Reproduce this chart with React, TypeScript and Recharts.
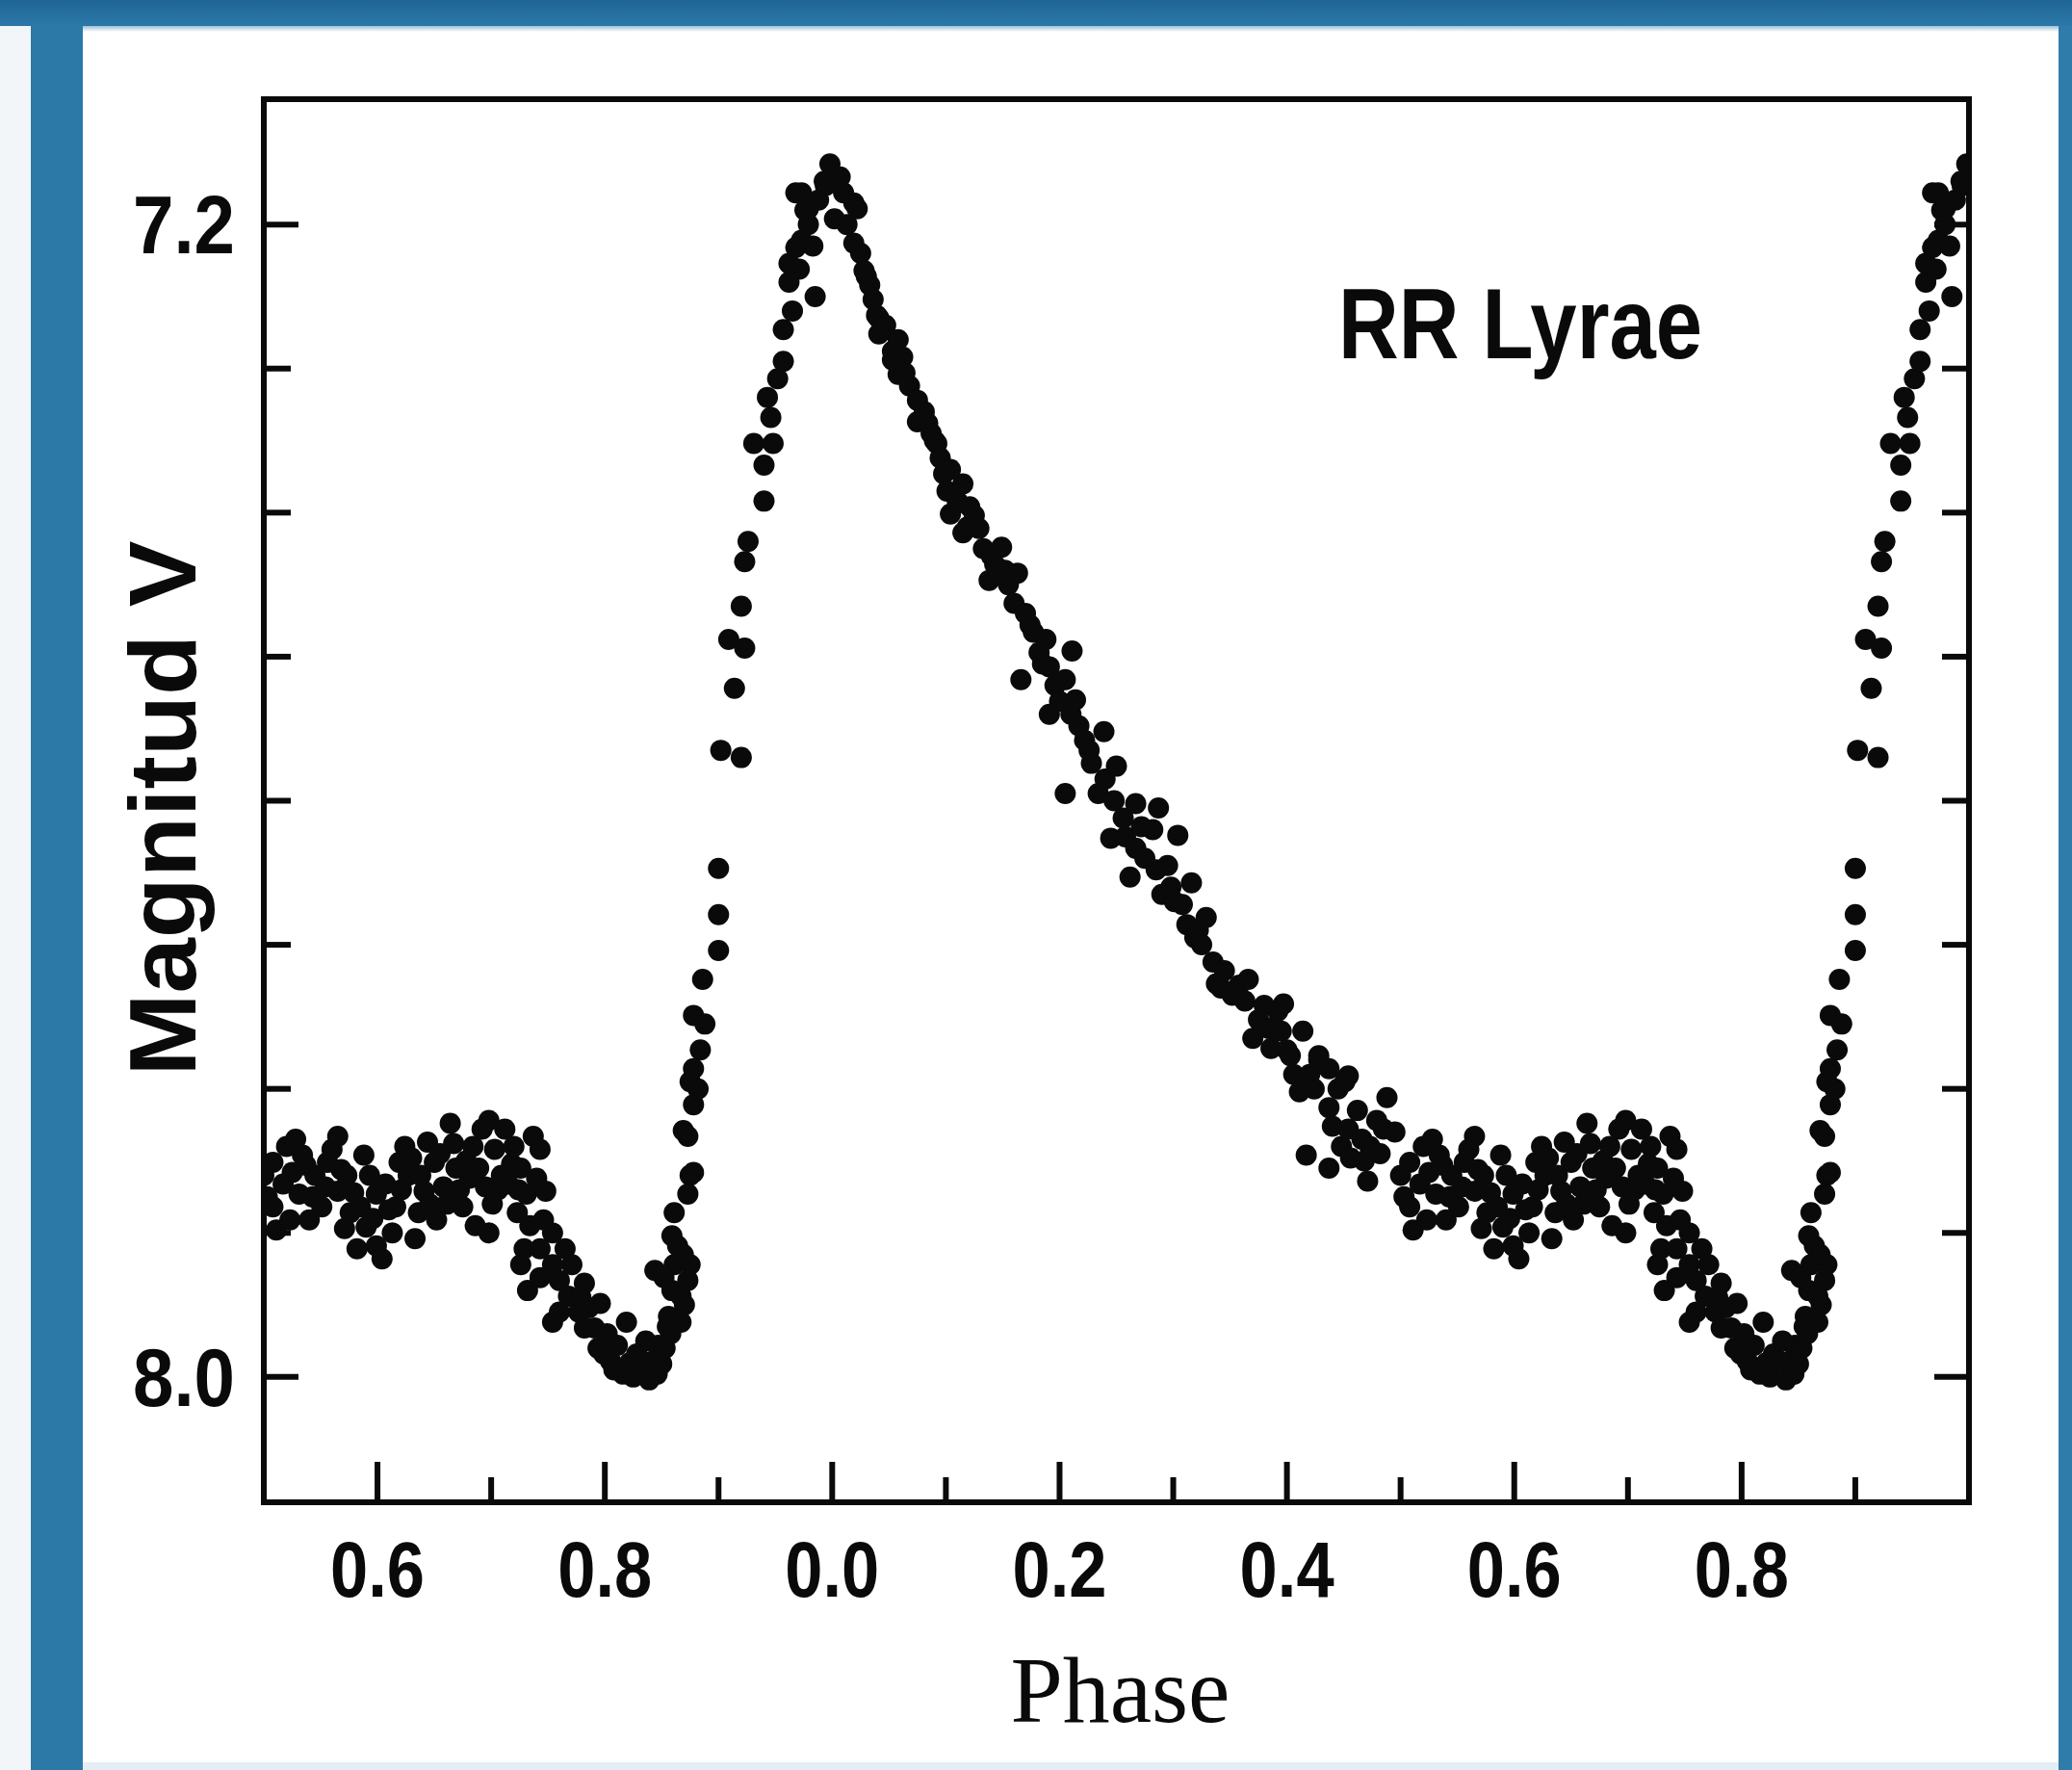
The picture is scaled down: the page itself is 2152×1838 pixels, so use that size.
import { ScatterChart, Scatter, XAxis, YAxis } from 'recharts'

// observed light curve of RR Lyrae: [phase, V magnitude]
const plateau: [number, number][] = [
  [0.500, 7.860], [0.503, 7.875], [0.508, 7.851], [0.508, 7.882], [0.511, 7.898], [0.517, 7.866],
  [0.520, 7.840], [0.523, 7.891], [0.525, 7.858], [0.528, 7.835], [0.531, 7.873], [0.534, 7.846],
  [0.537, 7.853], [0.540, 7.891], [0.543, 7.875], [0.545, 7.860], [0.551, 7.882], [0.554, 7.868],
  [0.556, 7.851], [0.560, 7.842], [0.565, 7.833], [0.565, 7.871], [0.568, 7.856], [0.571, 7.897],
  [0.573, 7.860], [0.576, 7.886], [0.579, 7.872], [0.582, 7.911], [0.585, 7.882], [0.588, 7.846],
  [0.590, 7.896], [0.593, 7.860], [0.596, 7.890], [0.599, 7.873], [0.599, 7.909], [0.604, 7.918],
  [0.607, 7.866], [0.610, 7.884], [0.613, 7.900], [0.616, 7.882], [0.619, 7.851], [0.621, 7.870],
  [0.624, 7.840], [0.627, 7.860], [0.630, 7.848], [0.633, 7.904], [0.636, 7.886], [0.638, 7.860],
  [0.641, 7.871], [0.644, 7.837], [0.646, 7.880], [0.650, 7.851], [0.652, 7.891], [0.655, 7.845],
  [0.658, 7.868], [0.661, 7.880], [0.664, 7.824], [0.667, 7.838], [0.669, 7.855], [0.672, 7.870],
  [0.675, 7.882], [0.678, 7.850], [0.681, 7.862], [0.684, 7.840], [0.686, 7.895], [0.689, 7.855],
  [0.692, 7.828], [0.695, 7.868], [0.698, 7.822], [0.698, 7.900], [0.701, 7.880], [0.703, 7.842],
  [0.706, 7.870], [0.709, 7.860], [0.712, 7.828], [0.715, 7.866], [0.718, 7.852], [0.720, 7.840],
  [0.723, 7.886], [0.724, 7.870], [0.726, 7.855], [0.729, 7.911], [0.731, 7.873], [0.734, 7.895],
  [0.737, 7.833], [0.740, 7.862], [0.743, 7.842], [0.746, 7.891], [0.748, 7.871], [0.754, 7.900],
]

const minimum: [number, number][] = [
  [0.726, 7.922], [0.732, 7.940], [0.743, 7.911], [0.743, 7.931], [0.754, 7.922], [0.754, 7.962],
  [0.760, 7.933], [0.760, 7.955], [0.765, 7.911], [0.768, 7.944], [0.771, 7.922], [0.777, 7.955],
  [0.779, 7.945], [0.782, 7.935], [0.782, 7.966], [0.786, 7.952], [0.791, 7.966], [0.794, 7.980],
  [0.796, 7.949], [0.799, 7.984], [0.802, 7.970], [0.805, 7.989], [0.808, 7.995], [0.811, 7.978],
  [0.816, 7.998], [0.819, 7.962], [0.822, 7.990], [0.825, 8.000], [0.828, 7.984], [0.833, 7.989],
  [0.836, 7.975], [0.839, 8.002], [0.842, 7.989], [0.844, 7.926], [0.846, 7.998], [0.847, 7.978],
  [0.850, 7.991], [0.853, 7.980], [0.856, 7.958], [0.858, 7.970], [0.859, 7.940], [0.861, 7.922],
  [0.864, 7.909], [0.867, 7.944], [0.867, 7.962], [0.870, 7.950], [0.873, 7.933], [0.875, 7.922],
]

const rise: [number, number][] = [
  [0.852, 7.931], [0.855, 7.965], [0.859, 7.902], [0.861, 7.886], [0.869, 7.915], [0.873, 7.873],
  [0.875, 7.860], [0.878, 7.858], [0.873, 7.833], [0.869, 7.829], [0.878, 7.811], [0.875, 7.795],
  [0.882, 7.800], [0.878, 7.786], [0.884, 7.773], [0.878, 7.749], [0.888, 7.755], [0.886, 7.724],
  [0.900, 7.704], [0.900, 7.679], [0.900, 7.647], [0.902, 7.565], [0.920, 7.570], [0.914, 7.522],
  [0.909, 7.488], [0.923, 7.494], [0.920, 7.465], [0.923, 7.434], [0.926, 7.420], [0.940, 7.392],
  [0.940, 7.367], [0.931, 7.352], [0.948, 7.352], [0.946, 7.334], [0.943, 7.320], [0.952, 7.307],
  [0.957, 7.295], [0.957, 7.273], [0.965, 7.260], [0.962, 7.240], [0.968, 7.216], [0.971, 7.231],
]

const peak: [number, number][] = [
  [0.962, 7.227], [0.968, 7.178], [0.973, 7.178], [0.973, 7.211], [0.976, 7.190], [0.979, 7.189],
  [0.979, 7.200], [0.983, 7.215], [0.985, 7.250], [0.988, 7.183], [0.993, 7.170], [0.994, 7.173],
  [0.998, 7.158], [0.002, 7.196], [0.007, 7.167], [0.010, 7.178], [0.013, 7.200], [0.019, 7.185],
  [0.019, 7.213], [0.022, 7.189],
]

const decline: [number, number][] = [
  [0.025, 7.220], [0.028, 7.232], [0.030, 7.236], [0.033, 7.242], [0.036, 7.252], [0.039, 7.263],
  [0.041, 7.265], [0.041, 7.276], [0.047, 7.270], [0.053, 7.288], [0.053, 7.294], [0.058, 7.280],
  [0.058, 7.304], [0.062, 7.292], [0.064, 7.303], [0.068, 7.312], [0.075, 7.322], [0.075, 7.337],
  [0.081, 7.330], [0.084, 7.338], [0.087, 7.345], [0.090, 7.350], [0.092, 7.352], [0.095, 7.362],
  [0.098, 7.373], [0.101, 7.385], [0.104, 7.370], [0.104, 7.401], [0.110, 7.392], [0.115, 7.380],
  [0.115, 7.414], [0.119, 7.410], [0.121, 7.396], [0.125, 7.402], [0.129, 7.411], [0.133, 7.425],
  [0.138, 7.447], [0.140, 7.430], [0.143, 7.436], [0.149, 7.424], [0.152, 7.440], [0.155, 7.450],
  [0.160, 7.463], [0.163, 7.442], [0.166, 7.516], [0.170, 7.470], [0.174, 7.478], [0.177, 7.483],
  [0.182, 7.497], [0.185, 7.505], [0.188, 7.488], [0.191, 7.507], [0.191, 7.540], [0.196, 7.520],
  [0.200, 7.531], [0.205, 7.516], [0.205, 7.595], [0.210, 7.540], [0.211, 7.496], [0.214, 7.530],
  [0.217, 7.548], [0.222, 7.558], [0.226, 7.565], [0.228, 7.574], [0.234, 7.595], [0.239, 7.552],
  [0.240, 7.585], [0.245, 7.626], [0.248, 7.600], [0.250, 7.576], [0.256, 7.612], [0.258, 7.625],
  [0.262, 7.653], [0.267, 7.602], [0.267, 7.633], [0.272, 7.618], [0.275, 7.640], [0.282, 7.620],
  [0.285, 7.648], [0.287, 7.605], [0.290, 7.665], [0.295, 7.645], [0.298, 7.660], [0.301, 7.670],
  [0.304, 7.624], [0.308, 7.672], [0.312, 7.686], [0.316, 7.657], [0.319, 7.695], [0.322, 7.690],
  [0.325, 7.700], [0.329, 7.681], [0.335, 7.712], [0.338, 7.727], [0.342, 7.730], [0.345, 7.718],
  [0.352, 7.735], [0.358, 7.728], [0.363, 7.739], [0.366, 7.724], [0.370, 7.765], [0.375, 7.752],
  [0.380, 7.742], [0.384, 7.758], [0.386, 7.772], [0.392, 7.746], [0.395, 7.760], [0.397, 7.741],
  [0.400, 7.773], [0.403, 7.777], [0.406, 7.790], [0.411, 7.802], [0.414, 7.760], [0.417, 7.846],
  [0.420, 7.790], [0.424, 7.800], [0.428, 7.777], [0.428, 7.780], [0.437, 7.786], [0.437, 7.813],
  [0.437, 7.855], [0.440, 7.826], [0.445, 7.800], [0.448, 7.840], [0.451, 7.795], [0.454, 7.791],
  [0.454, 7.828], [0.456, 7.848], [0.462, 7.815], [0.466, 7.835], [0.468, 7.850], [0.471, 7.864],
  [0.473, 7.840], [0.479, 7.822], [0.482, 7.845], [0.485, 7.828], [0.488, 7.806], [0.495, 7.830],
]

const phaseTicks = [0.5, 0.6, 0.7, 0.8, 0.9, 1.0, 1.1, 1.2, 1.3, 1.4, 1.5, 1.6, 1.7, 1.8, 1.9, 2.0]
const phaseLabels = ['', '0.6', '', '0.8', '', '0.0', '', '0.2', '', '0.4', '', '0.6', '', '0.8', '', '']
const magTicks = [7.2, 7.3, 7.4, 7.5, 7.6, 7.7, 7.8, 7.9, 8.0]
const magLabels = ['7.2', '', '', '', '', '', '', '', '8.0']

// the plot runs from phase 0.5 to 2.0, so the second half of the cycle shows twice
const observed = [...plateau, ...minimum, ...rise, ...peak, ...decline]
const points = observed.flatMap(([phase, mag]) =>
  phase >= 0.5 ? [{ phase, mag }, { phase: phase + 1, mag }] : [{ phase: phase + 1, mag }]
)

const INK = '#0a0a0a'
const SANS = '"Liberation Sans", Arial, sans-serif'
const frame = { stroke: INK, strokeWidth: 6, strokeLinecap: 'square' as const }

function PhaseTick({ x, y, payload, top }: any) {
  const label = phaseLabels[phaseTicks.indexOf(payload.value)] ?? ''
  const len = label ? 42 : 26
  const dir = top ? 1 : -1
  return (
    <g>
      <line x1={x} x2={x} y1={y} y2={y + dir * len} stroke={INK} strokeWidth={6} />
      {!top && label && (
        <text x={x} y={y + 98} textAnchor="middle" fontFamily={SANS} fontWeight={700} fontSize={82}
          textLength={98} lengthAdjust="spacingAndGlyphs" fill={INK}>{label}</text>
      )}
    </g>
  )
}

function MagTick({ x, y, payload, right }: any) {
  const label = magLabels[magTicks.indexOf(payload.value)] ?? ''
  const len = label ? 36 : 28
  const dir = right ? -1 : 1
  return (
    <g>
      <line x1={x} x2={x + dir * len} y1={y} y2={y} stroke={INK} strokeWidth={6} />
      {!right && label && (
        <text x={x - 30} y={y + 30} textAnchor="end" fontFamily={SANS} fontWeight={700} fontSize={86}
          textLength={106} lengthAdjust="spacingAndGlyphs" fill={INK}>{label}</text>
      )}
    </g>
  )
}

const Dot = (p: any) => <circle cx={p.cx} cy={p.cy} r={11} fill={INK} />

const phaseTitle = ({ viewBox }: any) => (
  <text x={viewBox.x + viewBox.width / 2 + 4} y={viewBox.y + 228} textAnchor="middle"
    fontFamily='"Liberation Serif", "Times New Roman", serif' fontSize={98}
    textLength={228} lengthAdjust="spacingAndGlyphs" fill={INK}>Phase</text>
)

const magTitle = ({ viewBox }: any) => {
  const cx = viewBox.x + viewBox.width - 71
  const cy = viewBox.y + viewBox.height / 2 + 8
  return (
    <text x={cx} y={cy} transform={`rotate(-90 ${cx} ${cy})`} textAnchor="middle" fontFamily={SANS}
      fontWeight={700} fontSize={98} textLength={556} lengthAdjust="spacingAndGlyphs" fill={INK}>Magnitud V</text>
  )
}

export default function App() {
  return (
    <div style={{ position: 'absolute', left: 0, top: 0, width: 2152, height: 1838, background: '#f2f6f9', overflow: 'hidden' }}>
      <div style={{ position: 'absolute', left: 32, top: 0, width: 54, height: 1838, background: '#2c79a8' }} />
      <div style={{ position: 'absolute', left: 2138, top: 0, width: 14, height: 1838, background: '#2f7cab' }} />
      <div style={{ position: 'absolute', left: 0, top: 0, width: 2152, height: 27, background: 'linear-gradient(#1f6595, #2c78a8)' }} />
      <div style={{ position: 'absolute', left: 86, top: 27, width: 2052, height: 1803, background: '#fff' }} />
      <div style={{ position: 'absolute', left: 86, top: 27, width: 2052, height: 6, background: 'linear-gradient(#9cc0d8, #fff)' }} />
      <div style={{ position: 'absolute', left: 86, top: 1830, width: 2052, height: 8, background: '#e4eef4' }} />
      <div style={{ position: 'absolute', left: 0, top: 0 }}>
        <ScatterChart width={2152} height={1838} margin={{ top: 102, right: 106, bottom: 277, left: 273 }}>
          <XAxis xAxisId="b" type="number" dataKey="phase" domain={[0.5, 2.0]} ticks={phaseTicks} interval={0}
            height={1} tickSize={0} tickMargin={0} tickLine={false} axisLine={frame} allowDataOverflow
            tick={(p: any) => <PhaseTick {...p} />} label={{ content: phaseTitle }} />
          <XAxis xAxisId="t" orientation="top" type="number" domain={[0.5, 2.0]} ticks={phaseTicks} interval={0}
            height={1} tickSize={0} tickMargin={0} tickLine={false} axisLine={frame} allowDataOverflow
            tick={(p: any) => <PhaseTick {...p} top />} />
          <YAxis yAxisId="l" type="number" dataKey="mag" domain={[7.113, 8.087]} reversed ticks={magTicks} interval={0}
            width={1} tickSize={0} tickMargin={0} tickLine={false} axisLine={frame} allowDataOverflow
            tick={(p: any) => <MagTick {...p} />} label={{ content: magTitle }} />
          <YAxis yAxisId="r" orientation="right" type="number" domain={[7.113, 8.087]} reversed ticks={magTicks} interval={0}
            width={1} tickSize={0} tickMargin={0} tickLine={false} axisLine={frame} allowDataOverflow
            tick={(p: any) => <MagTick {...p} right />} />
          <Scatter xAxisId="b" yAxisId="l" data={points} isAnimationActive={false} shape={Dot} />
          <text x={1390} y={372} fontFamily={SANS} fontWeight={700} fontSize={104} textLength={378}
            lengthAdjust="spacingAndGlyphs" fill={INK}>RR Lyrae</text>
        </ScatterChart>
      </div>
    </div>
  )
}
